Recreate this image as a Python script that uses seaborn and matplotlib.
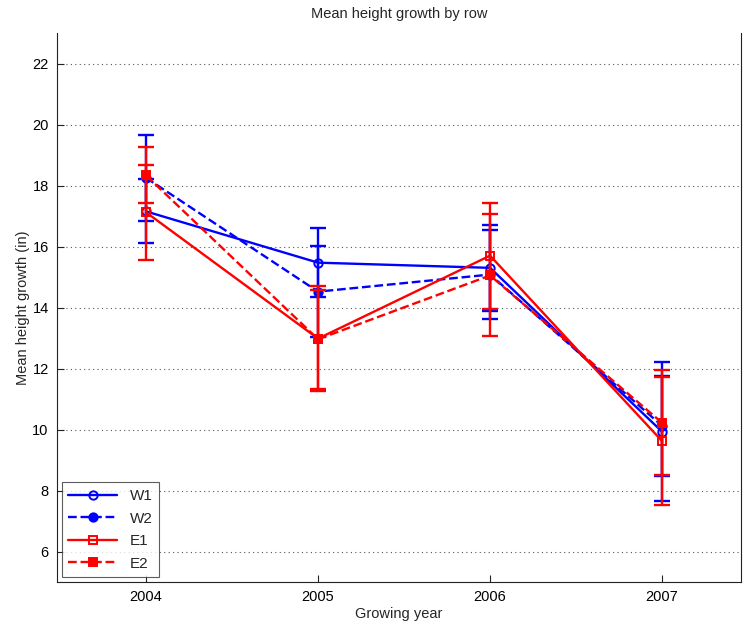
import matplotlib
matplotlib.use("Agg")
import matplotlib.pyplot as plt
import seaborn as sns
import pandas as pd

# Growing years and per-row mean height growth (in) with error half-widths
years = [2004, 2005, 2006, 2007]

w1_mean = [17.15, 15.47, 15.3, 9.93]
w1_err = [1.05, 1.13, 1.42, 2.27]

w2_mean = [18.25, 14.52, 15.08, 10.12]
w2_err = [1.4, 1.5, 1.46, 1.65]

e1_mean = [17.12, 12.98, 15.7, 9.62]
e1_err = [1.55, 1.72, 1.74, 2.1]

e2_mean = [18.33, 12.96, 15.05, 10.22]
e2_err = [0.92, 1.63, 2.0, 1.72]

row_names = ["W1", "W2", "E1", "E2"]

sns.set_theme(style="white")
plt.rcParams["font.family"] = ["Liberation Sans", "DejaVu Sans"]

fig = plt.figure(figsize=(7.44, 6.28), dpi=100)
ax = fig.add_axes([57 / 744, 1 - 582 / 628, (741 - 57) / 744, (582 - 33) / 628])

series = [
    ("W1", w1_mean, w1_err, "blue", "-", "o", "none"),
    ("W2", w2_mean, w2_err, "blue", "--", "o", "blue"),
    ("E1", e1_mean, e1_err, "red", "-", "s", "none"),
    ("E2", e2_mean, e2_err, "red", "--", "s", "red"),
]

for name, mean, err, color, ls, mk, mfc in series:
    ax.errorbar(years, mean, yerr=err, fmt="none", ecolor=color,
                elinewidth=1.7, capsize=6, capthick=1.7)
    df = pd.DataFrame({"year": years, "growth": mean})
    sns.lineplot(data=df, x="year", y="growth", ax=ax, color=color,
                 linestyle=ls, linewidth=1.7, marker=mk, markersize=6,
                 markerfacecolor=mfc, markeredgecolor=color,
                 markeredgewidth=1.4, label=name,
                 **({"dashes": (3.5, 2.2)} if ls == "--" else {}))

ax.set_xlim(2003.482, 2007.459)
ax.set_ylim(5, 23)
ax.set_xticks(years)
ax.set_xticklabels([str(y) for y in years])
ax.set_yticks(range(6, 23, 2))

ax.yaxis.grid(True, linestyle=(0, (1, 3)), color="#555555", linewidth=0.8)
ax.xaxis.grid(False)

for side in ["left", "bottom", "right"]:
    ax.spines[side].set_color("#222222")
    ax.spines[side].set_linewidth(0.8)
ax.spines["top"].set_visible(False)

ax.tick_params(axis="both", direction="in", length=5, width=0.8,
               colors="#222222", labelcolor="black", labelsize=10.5,
               left=True, bottom=True, pad=6)

ax.set_xlabel("Growing year", fontsize=10.5, labelpad=2)
ax.set_ylabel("Mean height growth (in)", fontsize=10.5, labelpad=2)
ax.set_title("Mean height growth by row", fontsize=10.5, pad=11)

leg = ax.legend(loc="lower left", fontsize=11, handlelength=3.2,
                frameon=True, fancybox=False, edgecolor="#333333",
                borderaxespad=0.3, labelspacing=0.55, borderpad=0.45)
leg.get_frame().set_linewidth(0.8)

fig.savefig("out.png", dpi=100)
